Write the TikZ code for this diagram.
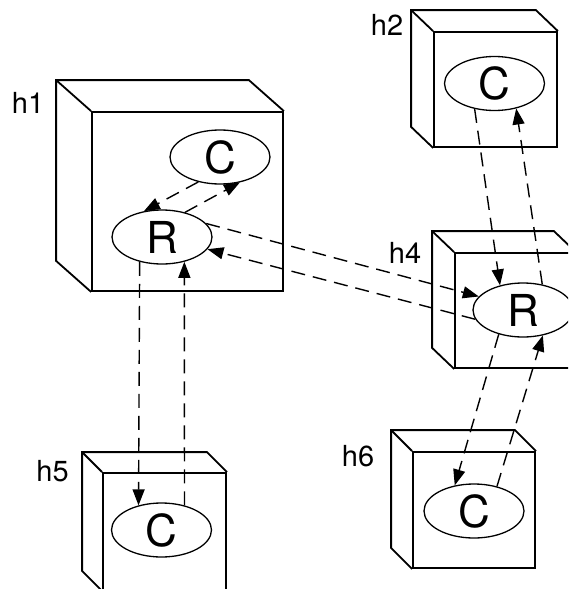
\documentclass[tikz,border=0pt]{standalone}
\usepackage{fontspec}
\setmainfont{TeX Gyre Heros}
\usetikzlibrary{arrows.meta}
\usetikzlibrary{shapes.geometric}

\begin{document}
\begin{tikzpicture}
        [x=1pt, y=-1pt,
        host/.style={rectangle,draw=black,line width=1.8pt,inner sep=0pt},
        proc/.style={ellipse,draw=black,line width=1.3pt,minimum width=100pt,minimum height=54pt,inner sep=0pt,font=\fontsize{44}{44}\selectfont},
        hostname/.style={font=\fontsize{29}{29}\selectfont},
        back/.style={line width=1.8pt,line join=miter},
        link/.style={-{Triangle[length=16pt,width=12pt]},line width=1.4pt,dash pattern=on 14pt off 8pt}]

\useasboundingbox (0,0) rectangle (568,589);
\clip (0,0) rectangle (568,589);

% hosts (front faces)
\node[host,minimum width=191pt,minimum height=179pt] at (187.5,201.5) (h1) {};
\node[host,minimum width=123pt,minimum height=115pt] at (495.5,89.5) (h2) {};
\node[host,minimum width=120pt,minimum height=115pt] at (515,310.5) (h4) {};
\node[host,minimum width=123pt,minimum height=117pt] at (164.5,531.5) (h5) {};
\node[host,minimum width=122pt,minimum height=116pt] at (474,510) (h6) {};

% hosts (back edges)
\draw[back] (h1.south west) -- ++(-35,-31) |- ([shift={(-35,-31)}]h1.north east) -- (h1.north east);
\draw[back] (h1.north west) -- ++(-35,-31);
\draw[back] (h2.south west) -- ++(-22,-21) |- ([shift={(-22,-21)}]h2.north east) -- (h2.north east);
\draw[back] (h2.north west) -- ++(-22,-21);
\draw[back] (h4.south west) -- ++(-22,-21) |- ([shift={(-22,-21)}]h4.north east) -- (h4.north east);
\draw[back] (h4.north west) -- ++(-22,-21);
\draw[back] (h5.south west) -- ++(-20,-20) |- ([shift={(-20,-20)}]h5.north east) -- (h5.north east);
\draw[back] (h5.north west) -- ++(-20,-20);
\draw[back] (h6.south west) -- ++(-21,-21) |- ([shift={(-21,-21)}]h6.north east) -- (h6.north east);
\draw[back] (h6.north west) -- ++(-21,-21);

% labels
\node[hostname] at (28,103) (l1) {h1};
\node[hostname] at (387,24.5) (l2) {h2};
\node[hostname] at (405,252.5) (l4) {h4};
\node[hostname] at (52.5,471) (l5) {h5};
\node[hostname] at (358,456) (l6) {h6};

% processes
\node[proc] at (220,157) (c1) {C};
\node[proc] at (162,237) (r1) {R};
\node[proc] at (494.5,83.5) (c2) {C};
\node[proc] at (523,310) (r4) {R};
\node[proc] at (161.5,530) (c5) {C};
\node[proc] at (474,511) (c6) {C};

%arrows
\draw[link] (r1.47) -- (c1.-52);
\draw[link] (c1.-131) -- (r1.125);
\draw[link] (r1.17) -- (r4.163);
\draw[link] (r4.-169) -- (r1.-15);
\draw[link] (r1.-132) -- (c5.133);
\draw[link] (c5.47) -- (r1.-48);
\draw[link] (c2.-128) -- (r4.133);
\draw[link] (r4.53) -- (c2.-49);
\draw[link] (r4.-135) -- (c6.127);
\draw[link] (c6.47) -- (r4.-52);

\end{tikzpicture}
\end{document}
